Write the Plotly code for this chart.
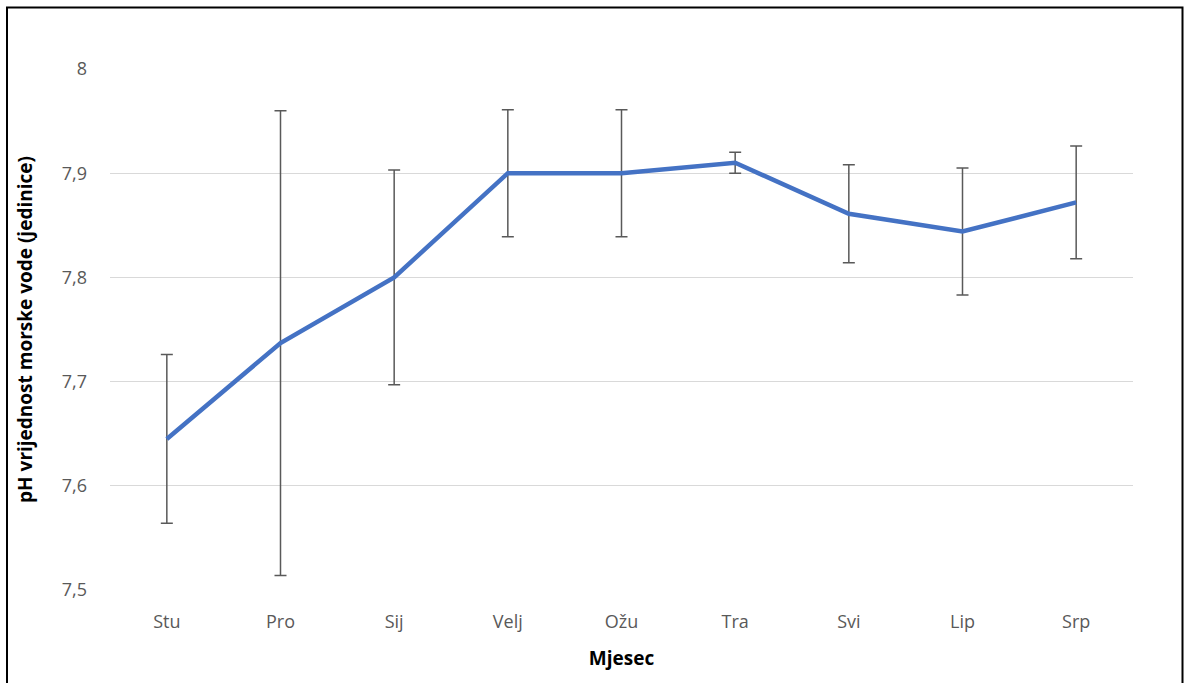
import plotly.graph_objects as go

months = ["Stu", "Pro", "Sij", "Velj", "Ožu", "Tra", "Svi", "Lip", "Srp"]
ph_mean = [7.645, 7.737, 7.800, 7.900, 7.900, 7.910, 7.861, 7.844, 7.872]
ph_err = [0.081, 0.223, 0.103, 0.061, 0.061, 0.010, 0.047, 0.061, 0.054]
y_ticks = [7.5, 7.6, 7.7, 7.8, 7.9, 8.0]

FONT = "Open Sans, sans-serif"

fig = go.Figure()
fig.add_trace(go.Scatter(
    x=months, y=ph_mean, mode="lines",
    line=dict(color="#4472C4", width=4.5),
    error_y=dict(type="data", array=ph_err, visible=True,
                 color="#595959", thickness=1.5, width=6),
    showlegend=False,
))

fig.update_layout(
    width=1184, height=683,
    margin=dict(l=110, r=51, t=69, b=93),
    paper_bgcolor="white", plot_bgcolor="white",
    separators=",.",
    font=dict(family=FONT, color="#595959", size=18),
    xaxis=dict(
        type="category", range=[-0.5, len(months) - 0.5],
        showgrid=False, zeroline=False, showline=False,
        ticks="", ticklabelstandoff=19,
        tickfont=dict(family=FONT, size=18, color="#595959"),
        title=dict(text="<b>Mjesec</b>", standoff=19,
                   font=dict(family=FONT, size=19, color="black")),
    ),
    yaxis=dict(
        range=[7.5, 8.0], tickvals=y_ticks, tickformat=".1~f",
        showgrid=True, gridcolor="#D9D9D9", gridwidth=1.3,
        zeroline=False, showline=False, ticks="", ticklabelstandoff=22,
        tickfont=dict(family=FONT, size=18, color="#595959"),
        title=dict(text="<b>pH vrijednost morske vode (jedinice)</b>", standoff=24,
                   font=dict(family=FONT, size=19, color="black")),
    ),
)

# outer chart border (partially cropped in the reference)
fig.add_shape(type="rect", xref="paper", yref="paper",
              x0=(7 - 110) / 1023, x1=(1182.5 - 110) / 1023,
              y0=(590 - 700) / 521, y1=(590 - 7.5) / 521,
              line=dict(color="black", width=2), fillcolor="rgba(0,0,0,0)",
              layer="below")

fig.write_html("out.html", config={"displayModeBar": False},
               post_script="document.body.style.margin='0';document.body.style.overflow='hidden';")
